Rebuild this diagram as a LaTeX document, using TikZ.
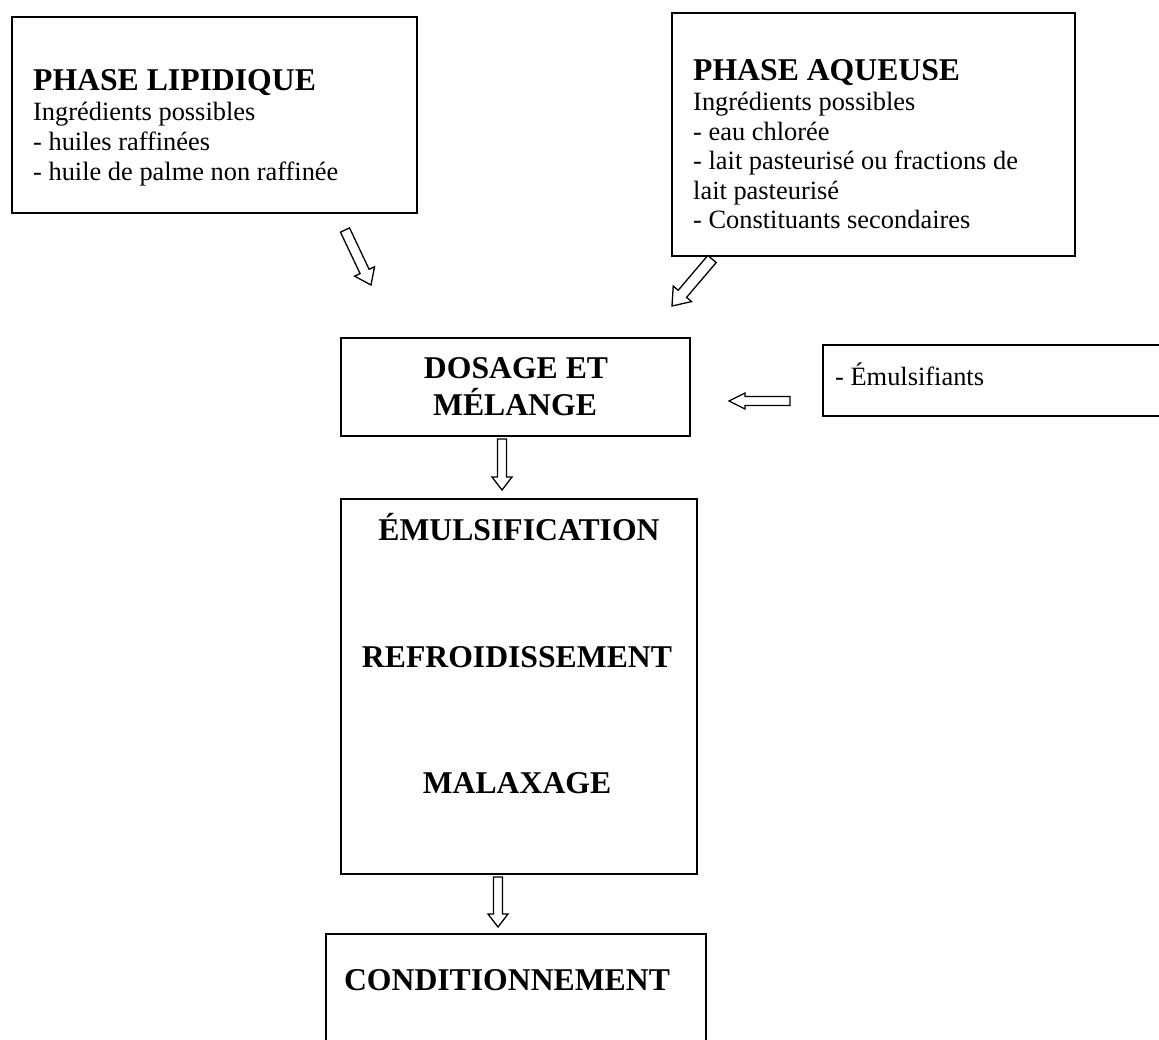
\documentclass[tikz,border=0pt]{standalone}
\usepackage{fontspec}
\setmainfont{Liberation Serif}
\usetikzlibrary{calc}
\newcommand\headfont{\fontsize{31.7}{36}\selectfont\bfseries}
\newcommand\bodyfont{\fontsize{26.4}{30}\selectfont}
\tikzset{
  box/.style={draw, line width=1.5pt, inner sep=0pt},
  hd/.style={anchor=base west, inner sep=0pt, font=\headfont},
  ln/.style={anchor=base west, inner sep=0pt, font=\bodyfont},
  ct/.style={anchor=base, inner sep=0pt, font=\headfont},
  barrow/.style={draw, line width=1.3pt, line join=miter, fill=white}
}
\newcommand\blockarr[5]{% start, tip, shaft half width, head half width, head length
  \path ($(#2)!#5!(#1)$) coordinate (hb);
  \draw[barrow] ($(#1)!#3!90:(#2)$) -- ($(hb)!#3!90:(#2)$) -- ($(hb)!#4!90:(#2)$) -- (#2)
    -- ($(hb)!#4!-90:(#2)$) -- ($(hb)!#3!-90:(#2)$) -- ($(#1)!#3!-90:(#2)$) -- cycle;}
\begin{document}
\begin{tikzpicture}[x=1pt, y=-1pt]
\useasboundingbox (0,0) rectangle (1159,1039);
\clip (0,0) rectangle (1159,1039);
% boxes
\node[box, minimum width=405pt, minimum height=196pt] (lip) at (214.5,115) {};
\node[box, minimum width=403pt, minimum height=243pt] (aq) at (873.5,134.5) {};
\node[box, minimum width=349pt, minimum height=98pt] (dos) at (515.5,387) {};
\node[box, minimum width=360pt, minimum height=71pt] (emu) at (1003,380.5) {};
\node[box, minimum width=356pt, minimum height=375pt] (proc) at (519,686.5) {};
\node[box, minimum width=380pt, minimum height=130pt] (cond) at (516,999) {};
% texts: lipid phase
\node[hd] (lipT) at (33,90) {PHASE LIPIDIQUE};
\node[ln] (lip1) at (33,120) {Ingrédients possibles};
\node[ln] (lip2) at (33,150) {- huiles raffinées};
\node[ln] (lip3) at (33,180) {- huile de palme non raffinée};
% texts: aqueous phase
\node[hd] (aqT) at (693,80) {PHASE AQUEUSE};
\node[ln] (aq1) at (693,110) {Ingrédients possibles};
\node[ln] (aq2) at (693,140) {- eau chlorée};
\node[ln] (aq3) at (693,169) {- lait pasteurisé ou fractions de};
\node[ln] (aq4) at (693,199) {lait pasteurisé};
\node[ln] (aq5) at (693,228) {- Constituants secondaires};
% other texts
\node[ct] (dosT1) at (516,378) {DOSAGE ET};
\node[ct] (dosT2) at (515,415) {MÉLANGE};
\node[ln] (emuT) at (835,385) {- Émulsifiants};
\node[ct] (p1) at (519,540) {ÉMULSIFICATION};
\node[ct] (p2) at (517,667) {REFROIDISSEMENT};
\node[ct] (p3) at (517,793) {MALAXAGE};
\node[ct] (condT) at (507,990) {CONDITIONNEMENT};
% arrow end points
\coordinate (la1) at (345,230); \coordinate (la2) at (371,285);
\coordinate (aa1) at (712,259); \coordinate (aa2) at (672,306);
\coordinate (ea1) at (790,401); \coordinate (ea2) at (729,401);
\coordinate (da1) at (502,439); \coordinate (da2) at (502,490);
\coordinate (pa1) at (498,877); \coordinate (pa2) at (498,927);
\blockarr{la1}{la2}{5pt}{11pt}{15pt}
\blockarr{aa1}{aa2}{5.5pt}{12pt}{16pt}
\blockarr{ea1}{ea2}{4.5pt}{8pt}{16pt}
\blockarr{da1}{da2}{4.5pt}{10pt}{13pt}
\blockarr{pa1}{pa2}{4.5pt}{10pt}{13pt}
\end{tikzpicture}
\end{document}
